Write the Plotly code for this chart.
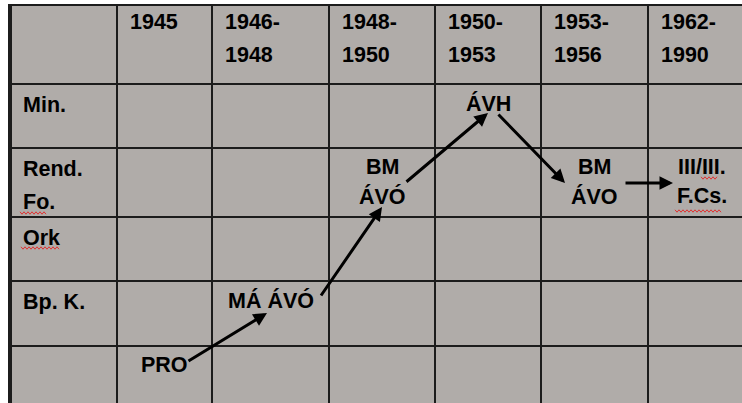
import plotly.graph_objects as go

# ---------------- data ----------------
col_labels = ["", "1945", "1946-\n1948", "1948-\n1950", "1950-\n1953", "1953-\n1956", "1962-\n1990"]
row_labels = ["", "Min.", "Rend.\nFo.", "Ork", "Bp. K.", ""]

entry_labels = ["PRO", "MÁ ÁVÓ", "BM\nÁVÓ", "ÁVH", "BM\nÁVO", "III/III.\nF.Cs."]
entry_col = [1, 2, 3, 4, 5, 6]          # index into col_labels
entry_row = [5, 4, 2, 1, 2, 2]          # index into row_labels

arrow_from = [0, 1, 2, 3, 4]            # index into entries
arrow_to = [1, 2, 3, 4, 5]

# ---------------- layout / style ----------------
W, H = 742, 403
COL_EDGES = [10, 117, 212, 329, 435, 541, 648, 755]
ROW_EDGES = [5, 84, 148, 217, 281, 346, 410]
BG = "#b0aca9"
LINE = "#1c1c1c"
FONT = "Liberation Sans, Arial, sans-serif"
FS = 21.5
MID = 0.35 * FS  # baseline -> text-box middle

# arrow endpoint offsets relative to (cell centre x, cell top y)
ARROW_TAIL = [(22.5, 16), (49.5, 16), (23, 35), (9, 29), (29.5, 35)]
ARROW_HEAD = [(-3.5, 32), (0, 59), (0, 29), (-29.5, 35), (-28.5, 35)]

# spell-check underline decorations (x0, x1, y)
SQUIGGLES = [(20, 47, 213), (21, 59, 248), (701, 718, 178), (675, 722, 211)]


def cx(i):
    return (COL_EDGES[i] + COL_EDGES[i + 1]) / 2


def ctop(j):
    return ROW_EDGES[j]


fig = go.Figure()
annotations = []


def add_lines(text, x, first_baseline, spacing, xanchor):
    for k, line in enumerate(text.split("\n")):
        if not line:
            continue
        annotations.append(dict(
            x=x, y=first_baseline + k * spacing - MID, xref="x", yref="y",
            text="<b>" + line + "</b>", showarrow=False,
            xanchor=xanchor, yanchor="middle",
            font=dict(family=FONT, size=FS, color="black"),
        ))


# header row (column labels)
for i, lab in enumerate(col_labels):
    add_lines(lab, COL_EDGES[i] + 11, ctop(0) + 25, 33, "left")

# row labels
for j, lab in enumerate(row_labels):
    add_lines(lab, COL_EDGES[0] + 11, ctop(j) + 28.5, 33, "left")

# entries
for lab, ci, rj in zip(entry_labels, entry_col, entry_row):
    add_lines(lab, cx(ci), ctop(rj) + 27, 29, "center")

# arrows
for k, (a, b) in enumerate(zip(arrow_from, arrow_to)):
    tx = cx(entry_col[a]) + ARROW_TAIL[k][0]
    ty = ctop(entry_row[a]) + ARROW_TAIL[k][1]
    hx = cx(entry_col[b]) + ARROW_HEAD[k][0]
    hy = ctop(entry_row[b]) + ARROW_HEAD[k][1]
    annotations.append(dict(
        x=hx, y=hy, ax=tx, ay=ty, xref="x", yref="y", axref="x", ayref="y",
        text="", showarrow=True, arrowhead=2, arrowsize=0.9, arrowwidth=3,
        arrowcolor="black",
    ))

shapes = [
    dict(type="line", xref="x", yref="y", x0=10, x1=10, y0=4, y1=H,
         line=dict(color=LINE, width=4)),
    dict(type="line", xref="x", yref="y", x0=8, x1=W, y0=5, y1=5,
         line=dict(color=LINE, width=2)),
]
for x0, x1, y in SQUIGGLES:
    pts = []
    x = x0
    up = True
    while x <= x1:
        pts.append(f"{x},{y - 1.2 if up else y + 1.2}")
        up = not up
        x += 2
    shapes.append(dict(type="path", xref="x", yref="y",
                       path="M" + " L".join(pts),
                       line=dict(color="#e03030", width=1)))

fig.update_layout(
    width=W, height=H, autosize=False,
    margin=dict(l=8, r=0, t=4, b=0, pad=0),
    paper_bgcolor="white", plot_bgcolor=BG,
    showlegend=False,
    xaxis=dict(range=[8, W], tickvals=COL_EDGES[1:-1], showgrid=True,
               gridcolor=LINE, gridwidth=2, showticklabels=False, ticks="",
               zeroline=False, showline=False, fixedrange=True),
    yaxis=dict(range=[H, 4], tickvals=ROW_EDGES[1:-1], showgrid=True,
               gridcolor=LINE, gridwidth=2, showticklabels=False, ticks="",
               zeroline=False, showline=False, fixedrange=True),
    annotations=annotations,
    shapes=shapes,
)

fig.write_html(
    "out.html",
    config={"displayModeBar": False},
    post_script="document.body.style.margin='0';document.body.style.overflow='hidden';",
)
